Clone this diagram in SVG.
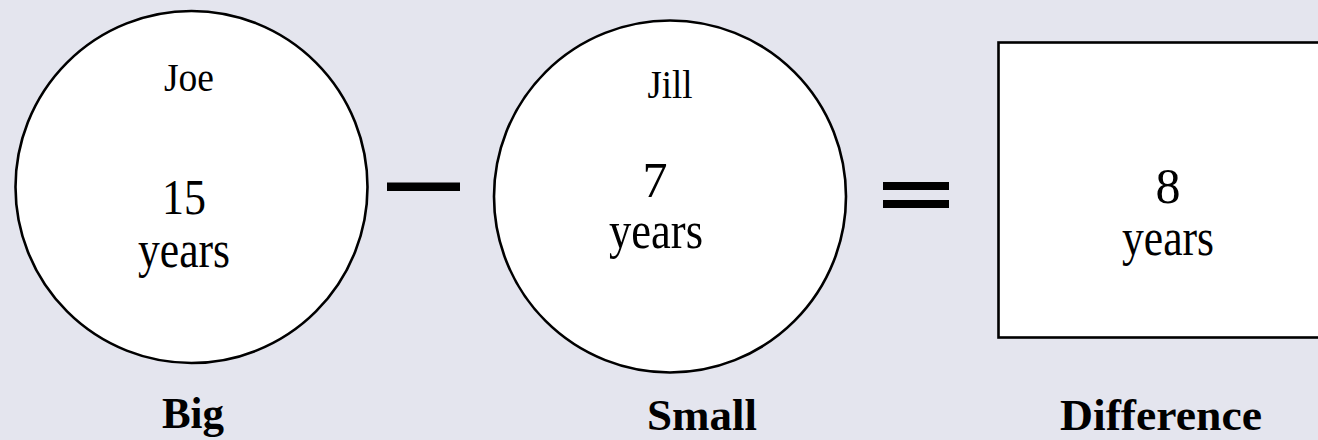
<svg xmlns="http://www.w3.org/2000/svg" width="1318" height="440" viewBox="0 0 1318 440">
<style>
.bg{fill:#e4e5ee}
.shape{fill:#ffffff;stroke:#000000;stroke-width:2.6}
.t{font-family:"Liberation Serif","Times New Roman",serif;fill:#000000;text-anchor:middle}
.lbl{font-family:"Liberation Serif","Times New Roman",serif;font-weight:bold;fill:#000000;text-anchor:middle}
.op{fill:#000000}
</style>
<rect class="bg" x="0" y="0" width="1318" height="440"/>
<g id="big">
<circle class="shape" cx="191.5" cy="187" r="176"/>
<text class="t" x="189" y="91" font-size="40" textLength="50" lengthAdjust="spacingAndGlyphs">Joe</text>
<text class="t" x="184" y="214" font-size="50" textLength="44" lengthAdjust="spacingAndGlyphs">15</text>
<text class="t" x="184" y="267" font-size="52" textLength="92" lengthAdjust="spacingAndGlyphs">years</text>
<text class="lbl" x="193" y="428" font-size="44" textLength="62" lengthAdjust="spacingAndGlyphs">Big</text>
</g>
<g id="small">
<circle class="shape" cx="670" cy="196.5" r="176"/>
<text class="t" x="670" y="98" font-size="40" textLength="45" lengthAdjust="spacingAndGlyphs">Jill</text>
<text class="t" x="655" y="197" font-size="50">7</text>
<text class="t" x="656" y="248" font-size="52" textLength="94" lengthAdjust="spacingAndGlyphs">years</text>
<text class="lbl" x="702" y="430" font-size="44" textLength="110" lengthAdjust="spacingAndGlyphs">Small</text>
</g>
<g id="difference">
<rect class="shape" x="998.5" y="42.5" width="340" height="295"/>
<text class="t" x="1168" y="203" font-size="50">8</text>
<text class="t" x="1168" y="255" font-size="52" textLength="92" lengthAdjust="spacingAndGlyphs">years</text>
<text class="lbl" x="1161" y="430" font-size="44" textLength="202" lengthAdjust="spacingAndGlyphs">Difference</text>
</g>
<g id="connectors">
<rect class="op" x="387" y="182.5" width="73" height="8.5"/>
<rect class="op" x="883" y="182" width="66" height="8"/>
<rect class="op" x="883" y="200" width="66" height="8"/>
</g>
</svg>
